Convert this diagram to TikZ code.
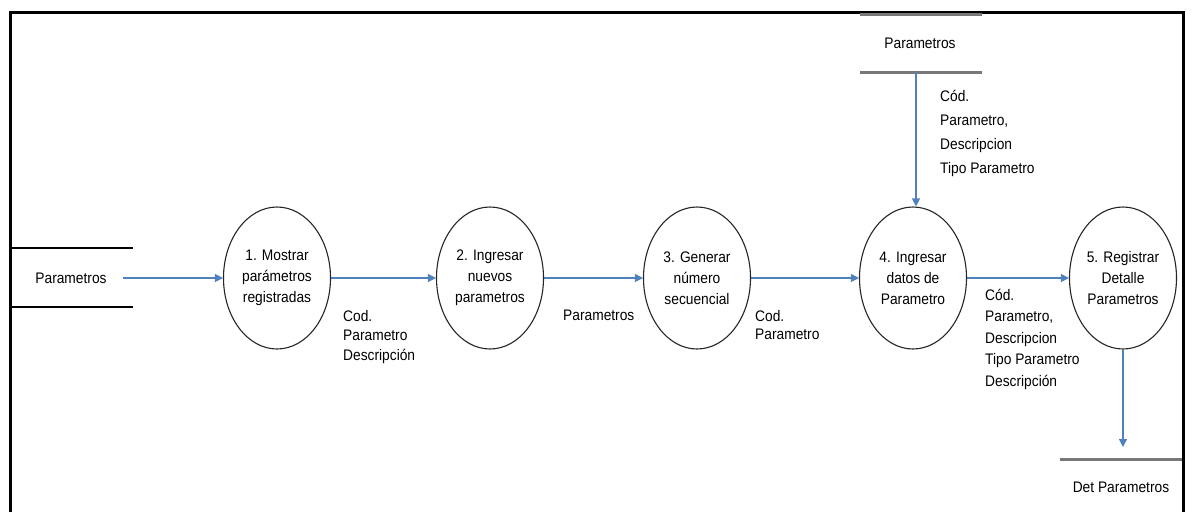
\documentclass[tikz,border=0pt]{standalone}
\usepackage{fontspec}
\setmainfont{Liberation Sans}[FakeStretch=0.9]
\usetikzlibrary{shapes.geometric,arrows.meta}
\definecolor{flowblue}{RGB}{79,129,189}
\definecolor{storegray}{RGB}{120,120,120}
\begin{document}
\begin{tikzpicture}[x=1pt,y=-1pt,
  txt/.style={font=\fontsize{15.3}{21}\selectfont},
  proc/.style={ellipse,draw=black!85,line width=1.1pt,minimum width=107pt,
    minimum height=142pt,inner sep=0pt,align=center,txt},
  flow/.style={draw=flowblue,line width=1.2pt,-{Triangle[length=8pt,width=8pt]}},
  lbl/.style={anchor=north west,inner sep=0pt,align=left,txt},
  storetxt/.style={inner sep=0pt,txt},
  storeline/.style={draw=storegray,line width=3pt},
  thinstore/.style={draw=black,line width=1.4pt}]
\useasboundingbox (0,0) rectangle (1192,512);
\fill[white] (0,0) rectangle (1192,512);

% outer frame, open at the bottom
\draw[line width=3pt,line cap=butt] (10,512) -- (10,12) -- (1183,12) -- (1183,512);

% left data store
\draw[thinstore] (12,248) -- (133,248);
\draw[thinstore] (12,307) -- (133,307);
\node[storetxt] (s1) at (71,278) {Parametros};
\coordinate (s1out) at (123,278);

% top data store
\draw[storeline] (860,14) -- (982,14);
\draw[storeline] (860,72) -- (982,72);
\node[storetxt] (s2) at (920,43) {Parametros};
\coordinate (s2out) at (916,72);

% bottom data store
\draw[storeline] (1060,459) -- (1182,459);
\node[storetxt] (s3) at (1121,487) {Det Parametros};
\coordinate (s3in) at (1123,447);

% processes
\node[proc] (p1) at (277,278) {1. Mostrar\\parámetros\\registradas};
\node[proc] (p2) at (490,278) {2. Ingresar\\nuevos\\parametros};
\node[proc] (p3) at (697,278) {3. Generar\\número\\secuencial};
\node[proc] (p4) at (913,278) {4. Ingresar\\datos de\\Parametro};
\node[proc] (p5) at (1123,278) {5. Registrar\\Detalle\\Parametros};

% flows
\draw[flow] (s1out) -- (p1.west);
\draw[flow] (p1.east) -- (p2.west);
\draw[flow] (p2.east) -- (p3.west);
\draw[flow] (p3.east) -- (p4.west);
\draw[flow] (p4.east) -- (p5.west);
\draw[flow] (s2out) -- (p4.north -| s2out);
\draw[flow] (p5.south) -- (s3in);

% flow labels
\node[lbl,font=\fontsize{15.3}{19.5}\selectfont] (l1) at (343,310) {Cod.\\Parametro\\Descripción};
\node[lbl] (l2) at (563,310) {Parametros};
\node[lbl,font=\fontsize{15.3}{18}\selectfont] (l3) at (755,310) {Cod.\\Parametro};
\node[lbl,font=\fontsize{15.3}{24}\selectfont] (l4) at (940,90) {Cód.\\Parametro,\\Descripcion\\Tipo Parametro};
\node[lbl,font=\fontsize{15.3}{21.5}\selectfont] (l5) at (985,289) {Cód.\\Parametro,\\Descripcion\\Tipo Parametro\\Descripción};
\end{tikzpicture}
\end{document}
